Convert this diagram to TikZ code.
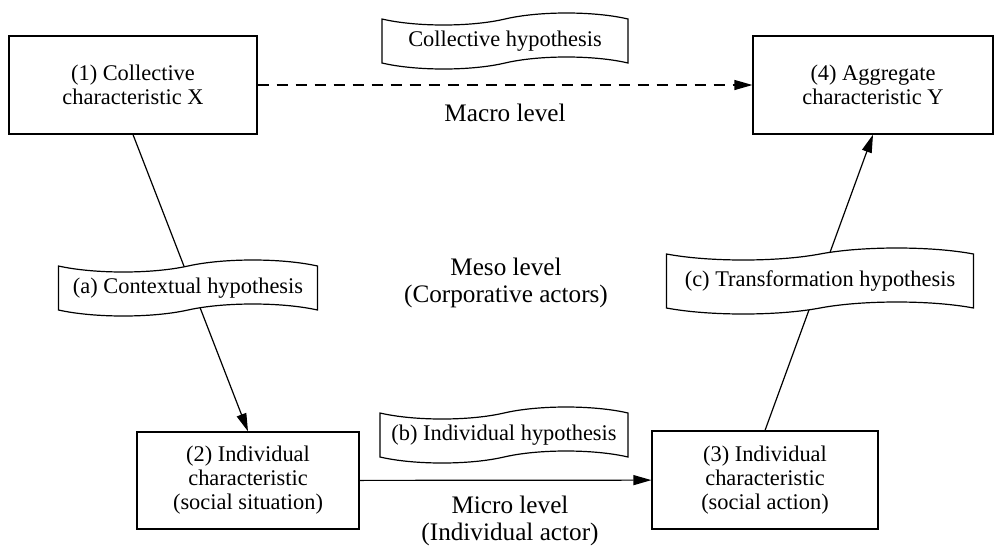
\documentclass[tikz,border=0pt]{standalone}
\usepackage{fontspec}
\setmainfont{Liberation Serif}
\usetikzlibrary{shapes.symbols,arrows.meta}
\begin{document}
\begin{tikzpicture}[x=0.5pt,y=-0.5pt,
  every node/.style={font=\fontsize{11.2pt}{12pt}\selectfont},
  box/.style={draw,line width=0.6pt,align=center,inner sep=0pt,fill=white},
  banner/.style={draw,line width=0.6pt,tape,fill=white,inner sep=0pt,tape bend height=6pt},
  lvl/.style={align=center,font=\fontsize{12.6pt}{13.5pt}\selectfont},
  conn/.style={line width=0.6pt,-{Triangle[length=9pt,width=5pt]}}]
\path[use as bounding box,fill=white] (0,0) rectangle (995,547);
\node[box,minimum width=124pt,minimum height=49pt] (b1) at (133,85) {(1) Collective\\characteristic X};
\node[box,minimum width=120pt,minimum height=49pt] (b4) at (873,85) {(4) Aggregate\\characteristic Y};
\node[box,minimum width=111pt,minimum height=48.5pt] (b2) at (248,480.5) {(2) Individual\\characteristic\\(social situation)};
\node[box,minimum width=113pt,minimum height=49pt] (b3) at (765,480) {(3) Individual\\characteristic\\(social action)};
\draw[conn,dash pattern=on 5.5pt off 4pt] (b1) -- (b4);
\draw[conn] (b1.south) -- (b2.north);
\draw[conn] (b2) -- (b3);
\draw[conn] (b3.north) -- (b4.south);
\node[banner,minimum width=123pt,minimum height=28pt] (hc) at (505,41) {Collective hypothesis};
\node[banner,minimum width=129.5pt,minimum height=28pt] (ha) at (188,288) {(a) Contextual hypothesis};
\node[banner,minimum width=153.5pt,minimum height=33pt] (hct) at (820,281) {(c) Transformation hypothesis};
\node[banner,minimum width=124pt,minimum height=28pt] (hb) at (504,435) {(b) Individual hypothesis};
\node[lvl] (macro) at (505,113) {Macro level};
\node[lvl] (meso) at (506,283) {Meso level\\(Corporative actors)};
\node[lvl] (micro) at (510,521) {Micro level\\(Individual actor)};
\end{tikzpicture}
\end{document}
